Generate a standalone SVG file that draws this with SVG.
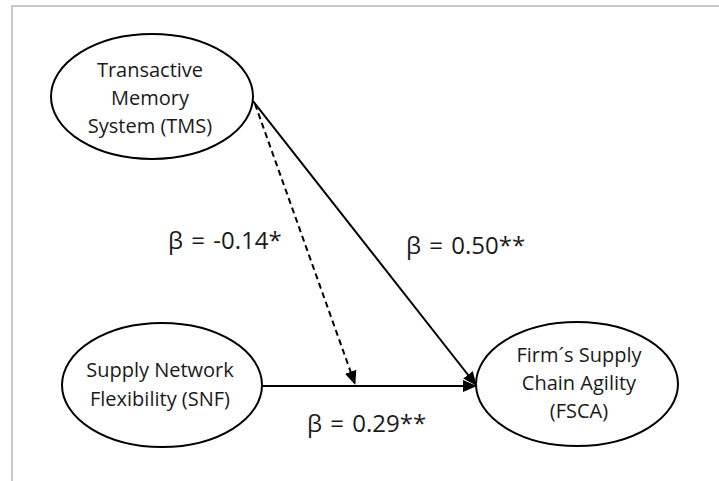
<svg xmlns="http://www.w3.org/2000/svg" width="719" height="481" viewBox="0 0 719 481">
<defs>
<style>
.node{fill:#fff;stroke:#000;stroke-width:2}
.lbl{font-family:"Open Sans","Noto Sans","Liberation Sans",sans-serif;font-size:20px;fill:#1a1a1a;text-anchor:middle}
.beta{font-family:"Open Sans","Noto Sans","Liberation Sans",sans-serif;font-size:24px;word-spacing:2px;fill:#1a1a1a}
.edge{stroke:#000;stroke-width:2;fill:none}
</style>
<marker id="arr" markerUnits="userSpaceOnUse" markerWidth="14" markerHeight="12" refX="13" refY="6" orient="auto">
<path d="M0,0 L14,6 L0,12 Z" fill="#000"/>
</marker>
</defs>
<rect width="719" height="481" fill="#fff"/>
<path d="M12,481 V6 H719" fill="none" stroke="#c8c8c8" stroke-width="2"/>
<g id="connectors">
<line class="edge" x1="253" y1="101" x2="476" y2="385" marker-end="url(#arr)"/>
<line class="edge" x1="262" y1="386" x2="476" y2="386" marker-end="url(#arr)"/>
<line class="edge" x1="255" y1="104" x2="355" y2="384" stroke-dasharray="6,4" marker-end="url(#arr)"/>
<text class="beta" x="168" y="249">β = -0.14*</text>
<text class="beta" x="406" y="254">β = 0.50**</text>
<text class="beta" x="307" y="432">β = 0.29**</text>
</g>
<g id="TMS">
<ellipse class="node" cx="152" cy="96.5" rx="101" ry="62.5"/>
<text class="lbl" x="150" y="77">Transactive</text>
<text class="lbl" x="150" y="105">Memory</text>
<text class="lbl" x="150" y="133">System (TMS)</text>
</g>
<g id="SNF">
<ellipse class="node" cx="162" cy="385" rx="100" ry="62"/>
<text class="lbl" x="160" y="377">Supply Network</text>
<text class="lbl" x="160" y="406">Flexibility (SNF)</text>
</g>
<g id="FSCA">
<ellipse class="node" cx="577" cy="384" rx="101" ry="62"/>
<text class="lbl" x="579" y="362">Firm´s Supply</text>
<text class="lbl" x="579" y="390">Chain Agility</text>
<text class="lbl" x="579" y="418">(FSCA)</text>
</g>
</svg>
